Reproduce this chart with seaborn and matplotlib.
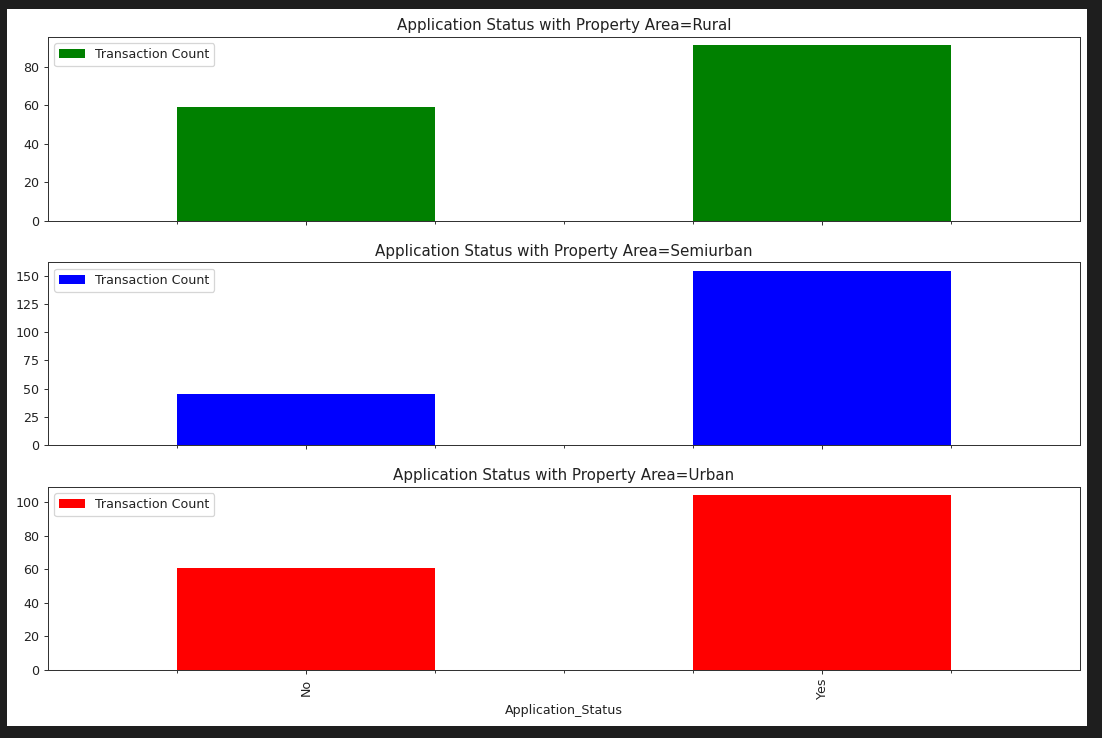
import matplotlib
matplotlib.use("Agg")
import matplotlib.pyplot as plt
from matplotlib.patches import Rectangle
from matplotlib.ticker import MultipleLocator
import pandas as pd
import seaborn as sns

# values
status = ["No", "Yes"]
areas = ["Rural", "Semiurban", "Urban"]
rural_counts = [59, 91]
semiurban_counts = [45, 154]
urban_counts = [61, 104]
bar_colors = ["green", "blue", "red"]
y_steps = [20, 25, 20]

counts = [rural_counts, semiurban_counts, urban_counts]

W, H = 1102, 738
DPI = 91
fig = plt.figure(figsize=(W / DPI, H / DPI), dpi=DPI)
fig.patch.set_facecolor("#1e1e1e")
# white notebook output area
fig.add_artist(Rectangle((7 / W, 1 - 726 / H), 1080 / W, 717 / H,
                         transform=fig.transFigure, facecolor="white",
                         edgecolor="none", zorder=-1))

left, right = 48 / W, 1080 / W
tops = [36.7, 262.3, 486.7]
bottoms = [220.7, 445, 670]

for i, area in enumerate(areas):
    ax = fig.add_axes([left, 1 - bottoms[i] / H, right - left,
                       (bottoms[i] - tops[i]) / H])
    df = pd.DataFrame({"Application_Status": status, "count": counts[i]})
    sns.barplot(data=df, x="Application_Status", y="count", color=bar_colors[i],
                saturation=1, width=0.5, linewidth=0, label="Transaction Count", ax=ax)
    ax.set_xlim(-0.5, 1.5)
    ax.set_ylim(0, max(counts[i]) * 1.05)
    ax.yaxis.set_major_locator(MultipleLocator(y_steps[i]))
    ax.set_title(f"Application Status with Property Area={area}", fontsize=12,
                 color="#222222", pad=5)
    ax.set_ylabel("")
    ax.set_xticks([-0.25, 0.25, 0.5, 0.75, 1.25], minor=True)
    ax.tick_params(which="minor", length=2)
    ax.tick_params(colors="#333333", labelcolor="#222222")
    leg = ax.legend(loc="upper left", fontsize=10)
    for t in leg.get_texts():
        t.set_color("#222222")
    for s in ax.spines.values():
        s.set_color("#333333")
    if i < 2:
        ax.set_xlabel("")
        ax.tick_params(labelbottom=False)
    else:
        ax.set_xlabel("Application_Status", fontsize=10, color="#222222")
        ax.tick_params(axis="x", labelrotation=90)

fig.savefig("out.png", dpi=DPI, facecolor=fig.get_facecolor())
